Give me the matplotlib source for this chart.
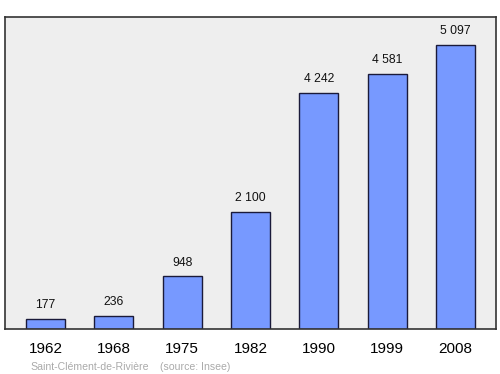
import matplotlib
matplotlib.use("Agg")
import matplotlib.pyplot as plt

years = ["1962", "1968", "1975", "1982", "1990", "1999", "2008"]
population = [177, 236, 948, 2100, 4242, 4581, 5097]
value_labels = ["177", "236", "948", "2 100", "4 242", "4 581", "5 097"]
commune = "Saint-Clément-de-Rivière"
source = "(source: Insee)"

plt.rcParams['font.family'] = ['Liberation Sans', 'DejaVu Sans']

fig = plt.figure(figsize=(5.0, 3.74), dpi=100)
ax = fig.add_axes([0.01, 1 - 329 / 374, 0.982, (329 - 17) / 374])
ax.set_facecolor('#eeeeee')

x = list(range(len(years)))
bars = ax.bar(x, population, width=0.57, color='#7799ff', edgecolor='#1a1a3a', linewidth=1.0, zorder=2)
for xi, v, lab in zip(x, population, value_labels):
    ax.annotate(lab, (xi, v), xytext=(0, 5.5), textcoords='offset points',
                ha='center', va='bottom', fontsize=8.7, color='#111111')

ax.set_xlim(-0.593, 6.593)
ax.set_ylim(0, 5600)
ax.set_yticks([])
ax.set_xticks(x)
ax.set_xticklabels(years, fontsize=11)
ax.tick_params(axis='x', length=0, pad=9.5)
for s in ax.spines.values():
    s.set_color('#333333')
    s.set_linewidth(1.2)

fig.text(30 / 500, 1 - 367 / 374, commune, fontsize=7.6, color='#aaaaaa', ha='left', va='center')
fig.text(160 / 500, 1 - 367 / 374, source, fontsize=7.6, color='#aaaaaa', ha='left', va='center')

fig.savefig('out.png', dpi=100)
